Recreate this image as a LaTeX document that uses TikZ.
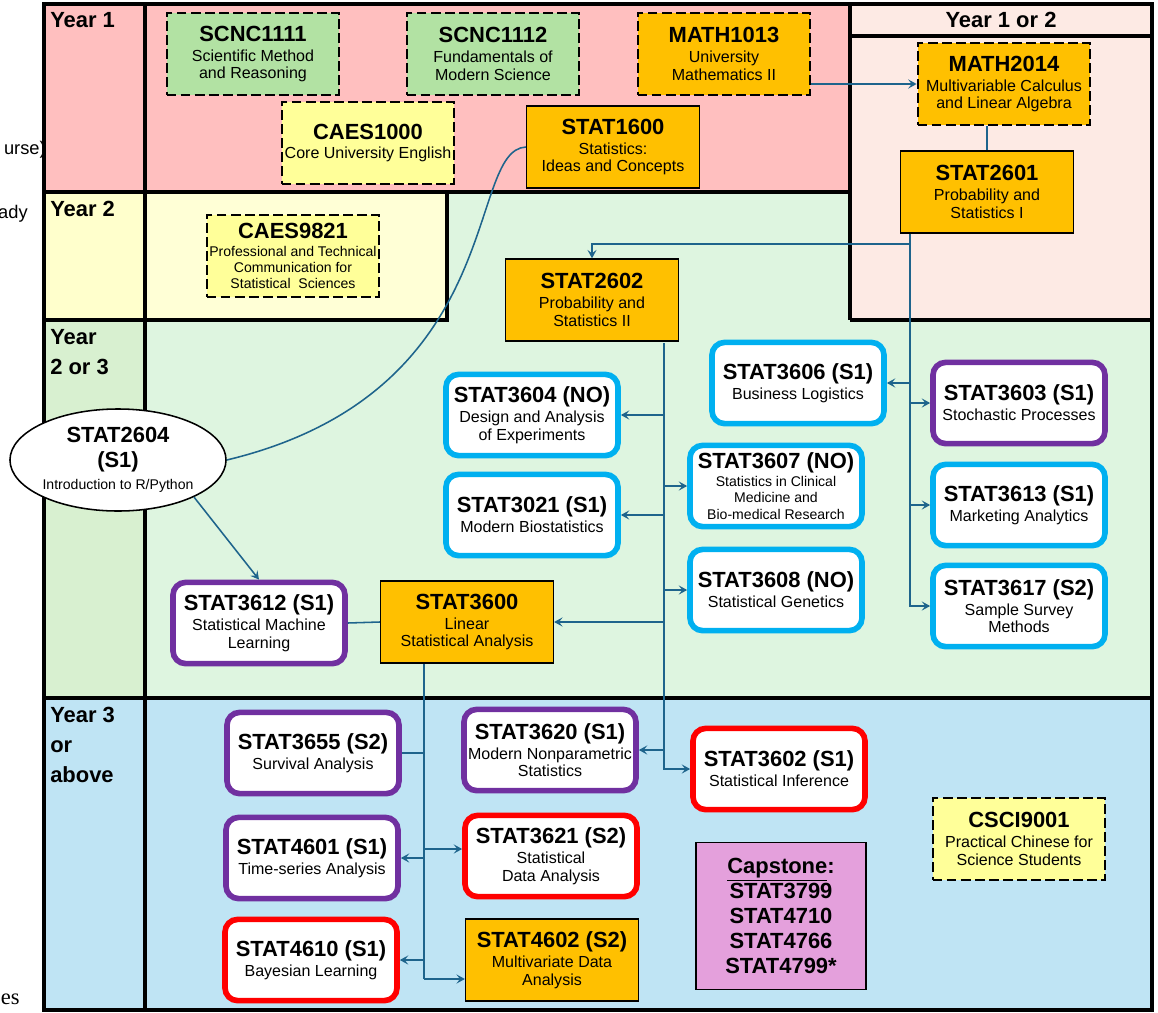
\documentclass[tikz,border=0pt]{standalone}
\usepackage{fontspec}
\setmainfont{Liberation Sans}
\newfontfamily\serifnote{Liberation Serif}
\usepackage{tikz}
\usetikzlibrary{arrows.meta}
\usetikzlibrary{shapes.geometric}
\usetikzlibrary{positioning}

\definecolor{yearonepink}{RGB}{255,191,191}
\definecolor{eitherpink}{RGB}{253,234,228}
\definecolor{yeartwoside}{RGB}{255,255,204}
\definecolor{yeartwofill}{RGB}{255,255,214}
\definecolor{midside}{RGB}{216,240,208}
\definecolor{midfill}{RGB}{222,245,224}
\definecolor{yearthreefill}{RGB}{191,228,244}
\definecolor{sciencegreen}{RGB}{178,226,163}
\definecolor{langyellow}{RGB}{255,255,153}
\definecolor{coreorange}{RGB}{255,192,0}
\definecolor{electblue}{RGB}{0,176,240}
\definecolor{electpurple}{RGB}{112,48,160}
\definecolor{electred}{RGB}{255,0,0}
\definecolor{capstonepink}{RGB}{228,160,220}
\definecolor{linkblue}{RGB}{30,100,140}

\newcommand{\codefont}{\fontsize{15.6}{17.8}\selectfont\bfseries}
\newcommand{\descfont}{\fontsize{11.4}{12.6}\selectfont\mdseries}
\newcommand{\notefont}{\fontsize{10}{11.6}\selectfont\mdseries}
\newcommand{\ccode}[1]{{\codefont #1}}
\newcommand{\cdesc}[1]{{\descfont #1}}
\newcommand{\cnote}[1]{{\notefont #1}}

\tikzset{
  yearframe/.style={line width=2.5pt},
  yearlabel/.style={font=\fontsize{15.6}{21.3}\selectfont\bfseries, align=left, inner sep=0pt, anchor=north west},
  course/.style={align=center, inner sep=0pt, font=\descfont, minimum width=4.32cm, minimum height=2.05cm},
  optional/.style={course, draw, line width=1.4pt, dash pattern=on 7pt off 3pt},
  core/.style={course, draw, fill=coreorange, line width=1pt},
  elective/.style={course, draw=#1, fill=white, line width=4pt, rounded corners=9pt, minimum width=4.3cm, minimum height=2.03cm},
  capstone/.style={course, draw, fill=capstonepink, line width=1.1pt, font=\codefont, minimum width=4.25cm, minimum height=3.68cm},
  link/.style={draw=linkblue, line width=1.1pt},
  arr/.style={link, -{Stealth[length=6pt, width=6.5pt, inset=2.5pt]}},
}

\begin{document}
\begin{tikzpicture}[x=0.025cm, y=-0.025cm]
\useasboundingbox (0,0) rectangle (1158,1013);

% bits of text cut off at the left edge
\node[anchor=base east, inner sep=0pt, font=\fontsize{13}{15}\selectfont] (cutA) at (46,154) {urse)};
\node[anchor=base east, inner sep=0pt, font=\fontsize{13}{15}\selectfont] (cutB) at (28,218) {ady};
\node[anchor=base east, inner sep=0pt, font=\fontsize{16}{18}\selectfont\serifnote] (cutC) at (20,1004) {es};

% year bands
\fill[midfill] (145,192) rectangle (1152,698);
\fill[yearonepink] (44,4) rectangle (850,192);
\fill[eitherpink] (850,4) rectangle (1152,320);
\fill[yeartwoside] (44,192) rectangle (145,320);
\fill[yeartwofill] (145,192) rectangle (447,320);
\fill[midside] (44,320) rectangle (145,698);
\fill[yearthreefill] (44,698) rectangle (1152,1010);

\draw[yearframe] (44,4) rectangle (1152,1010);
\draw[yearframe] (145,4) -- (145,1010);
\draw[yearframe] (44,192) -- (850,192);
\draw[yearframe] (850,4) -- (850,320);
\draw[yearframe] (850,36) -- (1152,36);
\draw[yearframe] (44,320) -- (447,320) -- (447,192);
\draw[yearframe] (850,320) -- (1152,320);
\draw[yearframe] (44,698) -- (1152,698);

\node[yearlabel] (yone) at (50,12) {Year 1};
\node[yearlabel] (ytwo) at (50,201) {Year 2};
\node[yearlabel] (ytwothree) at (50,329) {Year\\2 or 3};
\node[yearlabel] (ythree) at (50,707) {Year 3\\or\\above};
\node[yearlabel, anchor=center] (yoneortwo) at (1001,20) {Year 1 or 2};

% year 1
\node[optional, fill=sciencegreen] (scnc1111) at (253,54) {\ccode{SCNC1111}\\[1.6pt]\cdesc{Scientific Method}\\\cdesc{and Reasoning}};
\node[optional, fill=sciencegreen] (scnc1112) at (493,54) {\ccode{SCNC1112}\\[1.6pt]\cdesc{Fundamentals of}\\\cdesc{Modern Science}};
\node[optional, fill=coreorange] (math1013) at (724,54) {\ccode{MATH1013}\\[1.6pt]\cdesc{University}\\\cdesc{Mathematics II}};
\node[optional, fill=langyellow] (caes1000) at (368,143) {\ccode{CAES1000}\\[1.6pt]\cdesc{Core University English}};
\node[core] (stat1600) at (613,147) {\ccode{STAT1600}\\[1.6pt]\cdesc{Statistics:}\\\cdesc{Ideas and Concepts}};

% year 1 or 2
\node[optional, fill=coreorange] (math2014) at (1004,84) {\ccode{MATH2014}\\[1.6pt]\cdesc{Multivariable Calculus}\\\cdesc{and Linear Algebra}};
\node[core] (stat2601) at (987,192) {\ccode{STAT2601}\\[1.6pt]\cdesc{Probability and}\\\cdesc{Statistics I}};

% year 2
\node[optional, fill=langyellow, font=\notefont] (caes9821) at (293,256) {\ccode{CAES9821}\\[1pt]\cnote{Professional and Technical}\\\cnote{Communication for}\\\cnote{Statistical~ Sciences}};
\node[core] (stat2602) at (592,300) {\ccode{STAT2602}\\[1.6pt]\cdesc{Probability and}\\\cdesc{Statistics II}};

% year 2 or 3
\node[ellipse, draw, fill=white, line width=1.1pt, align=center, inner sep=0pt, font=\codefont, minimum width=5.4cm, minimum height=2.55cm] (stat2604) at (118,460) {\ccode{STAT2604}\\\ccode{(S1)}\\[-2pt]\cnote{Introduction to R/Python}};
\node[elective=electpurple] (stat3612) at (259,623) {\ccode{STAT3612 (S1)}\\[1.6pt]\cdesc{Statistical Machine}\\\cdesc{Learning}};
\node[core] (stat3600) at (467,622) {\ccode{STAT3600}\\[1.6pt]\cdesc{Linear}\\\cdesc{Statistical Analysis}};
\node[elective=electblue] (stat3604) at (532,415) {\ccode{STAT3604 (NO)}\\[1.6pt]\cdesc{Design and Analysis}\\\cdesc{of Experiments}};
\node[elective=electblue] (stat3021) at (532,515) {\ccode{STAT3021 (S1)}\\[1.6pt]\cdesc{Modern Biostatistics}};
\node[elective=electblue] (stat3606) at (798,383) {\ccode{STAT3606 (S1)}\\[1.6pt]\cdesc{Business Logistics}};
\node[elective=electblue, font=\notefont] (stat3607) at (776,486) {\ccode{STAT3607 (NO)}\\[1pt]\cnote{Statistics in Clinical}\\\cnote{Medicine and}\\\cnote{Bio-medical Research}};
\node[elective=electblue] (stat3608) at (776,590) {\ccode{STAT3608 (NO)}\\[1.6pt]\cdesc{Statistical Genetics}};
\node[elective=electpurple] (stat3603) at (1019,403) {\ccode{STAT3603 (S1)}\\[1.6pt]\cdesc{Stochastic Processes}};
\node[elective=electblue] (stat3613) at (1019,505) {\ccode{STAT3613 (S1)}\\[1.6pt]\cdesc{Marketing Analytics}};
\node[elective=electblue] (stat3617) at (1019,606) {\ccode{STAT3617 (S2)}\\[1.6pt]\cdesc{Sample Survey}\\\cdesc{Methods}};

% year 3 or above
\node[elective=electpurple] (stat3655) at (313,753) {\ccode{STAT3655 (S2)}\\[1.6pt]\cdesc{Survival Analysis}};
\node[elective=electpurple] (stat4601) at (312,858) {\ccode{STAT4601 (S1)}\\[1.6pt]\cdesc{Time-series Analysis}};
\node[elective=electred] (stat4610) at (311,960) {\ccode{STAT4610 (S1)}\\[1.6pt]\cdesc{Bayesian Learning}};
\node[elective=electpurple] (stat3620) at (550,750) {\ccode{STAT3620 (S1)}\\[1.6pt]\cdesc{Modern Nonparametric}\\\cdesc{Statistics}};
\node[elective=electred] (stat3621) at (551,856) {\ccode{STAT3621 (S2)}\\[1.6pt]\cdesc{Statistical}\\\cdesc{Data Analysis}};
\node[core] (stat4602) at (552,960) {\ccode{STAT4602 (S2)}\\[1.6pt]\cdesc{Multivariate Data}\\\cdesc{Analysis}};
\node[elective=electred] (stat3602) at (779,769) {\ccode{STAT3602 (S1)}\\[1.6pt]\cdesc{Statistical Inference}};
\node[capstone] (capstone) at (781,916) {\underline{Capstone}:\\STAT3799\\STAT4710\\STAT4766\\STAT4799*};
\node[optional, fill=langyellow] (csci9001) at (1019,839) {\ccode{CSCI9001}\\[1.6pt]\cdesc{Practical Chinese for}\\\cdesc{Science Students}};

% prerequisite links
\coordinate (dropA) at (910,244);
\coordinate (dropB) at (664,343);
\coordinate (dropC) at (424,664);
\coordinate (teeC) at (424,849);
\coordinate (footC) at (424,979);

\draw[arr] (math1013.east |- math2014.west) -- (math2014.west);
\draw[link] (stat2601.north |- math2014.south) -- (stat2601.north);
\draw[arr] (stat2601.south -| dropA) -- (dropA) -| (stat2602.north);
\draw[arr] (dropA) |- (stat3617.west);
\draw[arr] (dropA |- stat3606.east) -- (stat3606.east);
\draw[arr] (dropA |- stat3603.west) -- (stat3603.west);
\draw[arr] (dropA |- stat3613.west) -- (stat3613.west);

\draw[arr] (dropB) |- (stat3602.west);
\draw[arr] (dropB |- stat3604.east) -- (stat3604.east);
\draw[arr] (dropB |- stat3607.west) -- (stat3607.west);
\draw[arr] (dropB |- stat3021.east) -- (stat3021.east);
\draw[arr] (dropB |- stat3608.west) -- (stat3608.west);
\draw[arr] (dropB |- stat3600.east) -- (stat3600.east);
\draw[arr] (dropB |- stat3620.east) -- (stat3620.east);

\draw[link] (stat1600.west) .. controls (465,150) and (510,392) .. (stat2604.east);
\draw[arr] (stat2604.-26) -- (stat3612.north);
\draw[link] (stat3612.east) -- (stat3600.west);

\draw[link] (dropC) -- (footC);
\draw[arr] (footC) -- (footC -| stat4602.west);
\draw[link] (dropC |- stat3655.east) -- (stat3655.east);
\draw[arr] (teeC) -- (teeC -| stat3621.west);
\draw[arr] (dropC |- stat4601.east) -- (stat4601.east);
\draw[arr] (dropC |- stat4610.east) -- (stat4610.east);
\end{tikzpicture}
\end{document}
